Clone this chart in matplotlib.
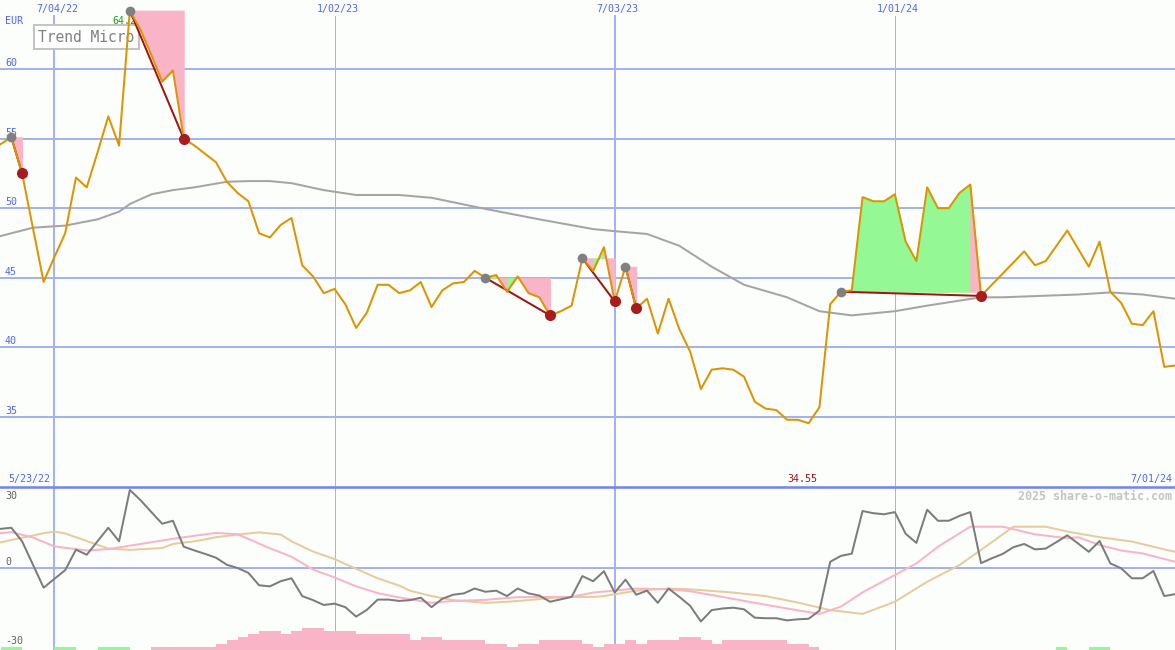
import numpy as np
import matplotlib
matplotlib.use('Agg')
import matplotlib.pyplot as plt

# weekly closes, week 0 = 7/04/22
weeks = np.arange(-5, 105)
price = [54.6, 55.1, 52.5, 48.6, 44.7, 46.5, 48.2, 52.2, 51.5, 54.0,
         56.6, 54.5, 64.2, 62.8, 61.0, 59.1, 59.9, 55.0, 54.5, 53.9,
         53.3, 51.9, 51.1, 50.5, 48.2, 47.9, 48.8, 49.3, 45.9, 45.1,
         43.9, 44.2, 43.1, 41.4, 42.5, 44.5, 44.5, 43.9, 44.1, 44.7,
         42.9, 44.1, 44.6, 44.7, 45.5, 45.0, 45.2, 44.0, 45.1, 43.9,
         43.6, 42.3, 42.6, 43.0, 46.4, 45.5, 47.2, 43.3, 45.8, 42.8,
         43.5, 41.0, 43.5, 41.3, 39.7, 37.0, 38.4, 38.5, 38.4, 37.9,
         36.1, 35.6, 35.5, 34.8, 34.8, 34.55, 35.7, 43.1, 44.0, 44.1,
         50.8, 50.5, 50.5, 51.0, 47.6, 46.2, 51.5, 50.0, 50.0, 51.1,
         51.7, 43.7, 44.5, 45.3, 46.1, 46.9, 45.9, 46.2, 47.3, 48.4,
         47.1, 45.8, 47.6, 44.0, 43.2, 41.7, 41.6, 42.6, 38.6, 38.7]
osc = [14.5, 14.9, 9.9, 1.3, -7.3, -4.0, -0.8, 6.8, 4.9, 9.9,
       14.9, 9.9, 28.9, 25.1, 20.7, 16.4, 17.5, 7.9, 6.5, 5.2,
       3.8, 1.2, 0.0, -1.8, -6.4, -6.8, -4.9, -3.8, -10.4, -11.9,
       -13.7, -13.2, -14.5, -18.0, -15.5, -11.7, -11.7, -12.2, -11.9, -11.0,
       -14.5, -11.4, -9.9, -9.4, -7.6, -8.8, -8.4, -10.4, -7.6, -9.4,
       -10.2, -12.5, -11.6, -10.7, -3.0, -4.9, -1.2, -9.1, -4.3, -9.9,
       -8.4, -12.9, -7.6, -10.7, -14.0, -19.8, -15.6, -15.0, -14.7, -15.3,
       -18.4, -18.6, -18.6, -19.4, -19.0, -18.8, -15.8, 2.3, 4.5, 5.3,
       21.1, 20.3, 19.9, 20.7, 12.7, 9.3, 21.6, 17.5, 17.5, 19.3,
       20.7, 1.8, 3.6, 5.2, 7.7, 8.9, 6.9, 7.2, 9.6, 12.1,
       9.1, 6.0, 10.0, 1.7, -0.1, -3.8, -3.8, -1.1, -10.4, -9.7]

ma_weeks = [-5, -2, 1, 4, 6, 7, 9, 11, 13, 16, 18, 20, 22, 25, 28, 32, 35, 40, 45, 50,
            52, 55, 58, 61, 64, 68, 71, 74, 78, 81, 86, 88, 95, 98, 101, 104]
ma_vals = [48.0, 48.6, 48.75, 49.2, 49.75, 50.3, 51.0, 51.3, 51.5, 51.9,
           51.95, 51.95, 51.8, 51.3, 50.95, 50.95, 50.75, 49.95, 49.2, 48.5,
           48.35, 48.15, 47.3, 45.8, 44.5, 43.6, 42.6, 42.3, 42.6, 43.0,
           43.6, 43.6, 43.8, 43.95, 43.8, 43.5]

pink_weeks = [-5, -4, -2, 0, 3, 5, 8, 10, 12, 15, 17, 20, 22, 24, 26, 28, 30, 32, 35, 37,
              40, 43, 46, 48, 50, 54, 57, 59, 62, 65, 68, 71, 73, 75, 78, 80, 82, 85, 88, 91,
              94, 95, 97, 99, 101, 104]
pink_vals = [12.9, 13.3, 11.3, 8.0, 6.5, 7.0, 8.9, 10.2, 11.4, 13.0,
             12.5, 7.3, 4.2, -0.6, -3.5, -6.8, -9.3, -10.9, -12.9, -12.2,
             -11.8, -10.8, -10.7, -10.7, -9.1, -7.6, -7.9, -8.6, -10.7, -12.9,
             -15.0, -17.0, -14.3, -9.0, -2.6, 1.7, 7.9, 15.3, 15.3, 12.5,
             11.0, 11.4, 8.5, 6.5, 5.4, 2.3]
tan_weeks = [-5, -3, -1, 0, 1, 3, 5, 7, 10, 11, 13, 15, 17, 19, 21, 22, 24, 26, 28, 30,
             32, 33, 35, 37, 40, 42, 44, 46, 48, 50, 51, 54, 57, 59, 63, 66, 69, 72, 75, 78,
             81, 84, 86, 89, 92, 94, 97, 100, 103, 104]
tan_vals = [9.5, 11.2, 12.9, 13.5, 12.8, 10.0, 7.2, 6.7, 7.4, 8.9,
            9.9, 11.4, 12.4, 13.2, 12.4, 9.9, 6.1, 3.3, -0.3, -3.8,
            -6.5, -8.4, -10.4, -11.9, -12.9, -12.5, -11.9, -11.1, -10.7, -10.7,
            -10.4, -8.4, -7.6, -7.9, -9.1, -10.4, -12.8, -15.6, -17.0, -12.5,
            -5.1, 1.1, 6.7, 15.3, 15.3, 13.5, 11.4, 9.8, 6.9, 6.0]

# bottom strip bars
bar_weeks = list(range(10, 72))
bar_counts = [1, 1, 1, 1, 1, 1, 2, 3, 4, 5, 6, 6, 5, 6, 7, 7, 6, 6, 6, 5,
              5, 5, 5, 5, 3, 4, 4, 3, 3, 3, 3, 2, 2, 1, 2, 2, 3, 3, 3, 3,
              2, 1, 2, 2, 3, 2, 3, 3, 3, 4, 4, 3, 2, 3, 3, 3, 3, 3, 3, 2,
              2, 1]
green_weeks = [-4, -3, 1, 2, 5, 6, 7, 94, 97, 98]

# trend segments (high -> low)
trend_start = [-4, 7, 40, 49, 53, 73]
trend_end = [-3, 12, 46, 52, 54, 86]

grid_weeks = [0, 26, 52, 78]
grid_labels = ['7/04/22', '1/02/23', '7/03/23', '1/01/24']
grid_width = [2, 1, 2, 1]
price_ticks = [60, 55, 50, 45, 40, 35]
osc_ticks = [30, 0, -30]

bg = '#fcfefb'
gridc = '#a4b2f0'
labc = '#5066f0'
mono = 'DejaVu Sans Mono'
px = 72 / 100

fig = plt.figure(figsize=(11.75, 6.5), dpi=100, facecolor=bg)
ax1 = fig.add_axes([0, 163 / 650, 1, 487 / 650])
ax2 = fig.add_axes([0, 0, 1, 163 / 650])
for ax in (ax1, ax2):
    ax.set_facecolor(bg)
    ax.set_xlim(-5.05, 104.0)
    ax.set_axis_off()
ax1.set_ylim(29.97, 64.96)
ax2.set_ylim(-30.37, 30)

price_s = dict(zip(weeks, price))

# grid
for t in price_ticks:
    ax1.axhline(t, color=gridc, lw=2 * px, zorder=1)
    ax1.annotate(str(t), xy=(0, t), xycoords=('axes fraction', 'data'), xytext=(5, 1),
                 textcoords='offset pixels', va='bottom', ha='left', color=labc,
                 family=mono, fontsize=7.2, zorder=6)
for w, lab, lw in zip(grid_weeks, grid_labels, grid_width):
    ax1.axvline(w, ymax=1 - 16 / 487, color=gridc, lw=lw * px, zorder=1)
    ax2.axvline(w, color=gridc, lw=lw * px, zorder=1)
    ax1.annotate(lab, xy=(w, 1), xycoords=('data', 'axes fraction'), xytext=(3, -9),
                 textcoords='offset pixels', ha='center', va='center', color=labc,
                 family=mono, fontsize=7.2)
ax2.axhline(0, color=gridc, lw=2 * px, zorder=1)
ax2.axhline(30, color='#7486f0', lw=2.6 * px, zorder=5, clip_on=False)

ax1.text(5 / 1175, 1 - 21 / 487, 'EUR', transform=ax1.transAxes, ha='left', va='center',
         color=labc, family=mono, fontsize=7.2)
ax1.text(38 / 1175, 1 - 37 / 487, 'Trend Micro', transform=ax1.transAxes, ha='left',
         va='center', color='#808080', family=mono, fontsize=10.5, zorder=2,
         bbox=dict(boxstyle='square,pad=0.3', fc='white', ec='#c4c4c4', lw=2 * px))

# 200 MA
ax1.plot(ma_weeks, ma_vals, color='#a4a4a4', lw=2 * px, zorder=3)

# trend fills and lines
for s, e in zip(trend_start, trend_end):
    level = price_s[s]
    for k in range(s + 1, e + 1):
        col = '#94f894' if price_s[k] > level else '#f9b4c8'
        ax1.fill_between([k - 1, k], level, [price_s[k - 1], price_s[k]], facecolor=col,
                         edgecolor=col, lw=0.6, zorder=3)
    ax1.plot([s, e], [level, price_s[e]], color='#a01414', lw=2 * px, zorder=4)

ax1.plot(weeks, price, color='#dc9400', lw=2 * px, zorder=5)
ax1.plot(trend_start, [price_s[s] for s in trend_start], 'o', color='#808080', ms=7,
         mec='none', zorder=6)
ax1.plot(trend_end, [price_s[e] for e in trend_end], 'o', color='#a81c1c', ms=8,
         mec='none', zorder=6)

top = trend_start[int(np.argmax([price_s[s] for s in trend_start]))]
ax1.annotate(f'{price_s[top]:.1f}', xy=(top, 1), xycoords=('data', 'axes fraction'),
             xytext=(-17, -21), textcoords='offset pixels', ha='left', va='center',
             color='#20a020', family=mono, fontsize=7.2, zorder=1.5)
low = weeks[int(np.argmin(price))]
ax1.annotate(f'{min(price):.2f}', xy=(low, 0), xycoords=('data', 'axes fraction'),
             xytext=(-6, 8), textcoords='offset pixels', ha='center', va='center',
             color='#a01414', family=mono, fontsize=7.2)
ax1.text(8 / 1175, 8 / 487, '5/23/22', transform=ax1.transAxes, ha='left', va='center',
         color=labc, family=mono, fontsize=7.2)
ax1.text(1172 / 1175, 8 / 487, '7/01/24', transform=ax1.transAxes, ha='right',
         va='center', color=labc, family=mono, fontsize=7.2)

# oscillator panel
ax2.plot(tan_weeks, tan_vals, color='#e6cc9c', lw=2 * px, zorder=3)
ax2.plot(pink_weeks, pink_vals, color='#f8b4c8', lw=2 * px, zorder=3)
ax2.plot(weeks, osc, color='#7c7c7c', lw=2 * px, zorder=4)
for t, ypix in zip(osc_ticks, [496, 562, 641]):
    ax2.text(5 / 1175, 1 - (ypix - 487) / 163, str(t), transform=ax2.transAxes, ha='left',
             va='center', color='#606060', family=mono, fontsize=7.2)
ax2.text(1172 / 1175, 1 - 9 / 163, '2025 share-o-matic.com', transform=ax2.transAxes,
         ha='right', va='center', color='#c4c4c4', family=mono, fontsize=8.4,
         fontweight='bold')

axb = ax2.twinx()
axb.set_axis_off()
axb.set_ylim(0, 51)
axb.bar(np.array(bar_weeks) - 1, bar_counts, width=1, align='edge', color='#f9b4c8',
        lw=0, zorder=2)
axb.bar(np.array(green_weeks) - 1, [1] * len(green_weeks), width=1, align='edge',
        color='#94f894', lw=0, zorder=2)

fig.savefig('out.png', dpi=100, facecolor=bg)
